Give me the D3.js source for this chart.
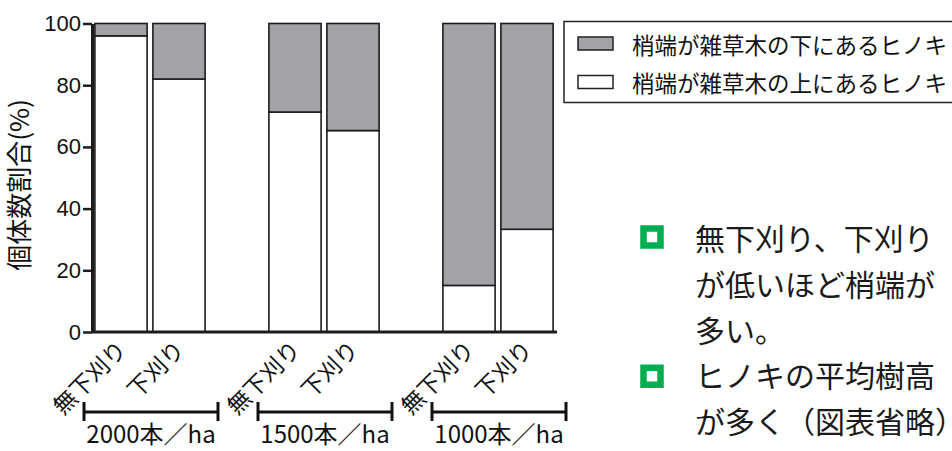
<!DOCTYPE html>
<html>
<head>
<meta charset="utf-8">
<script src="https://cdn.jsdelivr.net/npm/d3@7/dist/d3.min.js"></script>
<style>
  html, body { margin: 0; padding: 0; background: #fff; }
  svg { display: block; }
  .jp { font-family: "Noto Sans CJK JP", "Noto Sans", sans-serif; }
  .half { font-feature-settings: "halt" 1; }
</style>
</head>
<body>
<svg id="chart" width="952" height="451"></svg>
<script>
// Stand density groups and weeding treatments
const groups = ["2000本／ha", "1500本／ha", "1000本／ha"];
const treatments = ["無下刈り", "下刈り"];

// Share of trees (%) per group × treatment, in group order
const aboveShare = [96, 82, 71.3, 65.3, 15.1, 33.3];   // 梢端が雑草木の上
const belowShare = [4, 18, 28.7, 34.7, 84.9, 66.7];    // 梢端が雑草木の下

const yTicks = [0, 20, 40, 60, 80, 100];

const seriesNames = ["梢端が雑草木の下にあるヒノキ", "梢端が雑草木の上にあるヒノキ"];
const seriesColors = { above: "#ffffff", below: "#a3a2a7" };

const noteLines = [
  { text: "無下刈り、下刈り", bullet: true },
  { text: "が低いほど梢端が", bullet: false },
  { text: "多い。", bullet: false },
  { text: "ヒノキの平均樹高", bullet: true },
  { text: "が多く（図表省略", tail: "）", bullet: false }
];

// Build bar rows and band slots (a spacer slot between groups)
const rows = [];
const slots = [];
groups.forEach((g, gi) => {
  treatments.forEach((t, ti) => {
    const i = gi * treatments.length + ti;
    const key = g + "|" + t;
    rows.push({ key, group: g, treatment: t, above: aboveShare[i], below: belowShare[i] });
    slots.push(key);
  });
  if (gi < groups.length - 1) slots.push("gap" + gi);
});

const svg = d3.select("#chart");
const stroke = "#1c1c1c";

const x = d3.scaleBand().domain(slots).range([92, 556]).paddingInner(0.1).paddingOuter(0.05);
const y = d3.scaleLinear().domain([0, 100]).range([332, 23.5]);

// Stacked bars: white (above) at the bottom, gray (below) on top
const stack = d3.stack().keys(["above", "below"]);
const stacked = stack(rows);

svg.append("g").selectAll("g")
  .data(stacked)
  .join("g")
  .attr("fill", s => seriesColors[s.key])
  .selectAll("rect")
  .data(s => s)
  .join("rect")
  .attr("x", d => x(d.data.key))
  .attr("width", x.bandwidth())
  .attr("y", d => y(d[1]))
  .attr("height", d => y(d[0]) - y(d[1]))
  .attr("stroke", stroke)
  .attr("stroke-width", 1.6);

// Y axis
const yAxis = svg.append("g")
  .attr("transform", "translate(92,0)")
  .call(d3.axisLeft(y).tickValues(yTicks).tickSize(9).tickPadding(2).tickSizeOuter(0));
yAxis.select(".domain").attr("stroke", stroke).attr("stroke-width", 3);
yAxis.selectAll(".tick line").attr("stroke", stroke).attr("stroke-width", 2.5);
yAxis.selectAll(".tick text")
  .attr("fill", "#111")
  .style("font-family", "'Liberation Sans', Arial, sans-serif")
  .style("font-size", "22px");

// X axis with rotated treatment labels
const xAxis = svg.append("g")
  .attr("transform", "translate(0,332)")
  .call(d3.axisBottom(x).tickValues(rows.map(r => r.key)).tickSize(0).tickSizeOuter(0)
    .tickFormat(k => k.split("|")[1]));
xAxis.select(".domain").attr("stroke", stroke).attr("stroke-width", 3)
  .attr("d", `M${x.range()[0]},0H${x.range()[1] + 1}`);
xAxis.selectAll(".tick text")
  .attr("class", "jp")
  .attr("fill", "#111")
  .style("font-size", "23px")
  .attr("text-anchor", "end")
  .attr("dy", null)
  .attr("x", 7)
  .attr("y", 19)
  .attr("transform", "rotate(-45 7 19)");

// Group brackets and density labels
const bw = x.bandwidth();
groups.forEach((g, gi) => {
  const first = x(g + "|" + treatments[0]);
  const last = x(g + "|" + treatments[treatments.length - 1]) + bw;
  const cx = (first + last) / 2 + 1;
  const half = 67;
  const by = 412;
  const br = svg.append("g").attr("stroke", "#111").attr("stroke-width", 3);
  br.append("line").attr("x1", cx - half).attr("x2", cx + half).attr("y1", by).attr("y2", by);
  br.append("line").attr("x1", cx - half).attr("x2", cx - half).attr("y1", by - 10).attr("y2", by + 9);
  br.append("line").attr("x1", cx + half).attr("x2", cx + half).attr("y1", by - 10).attr("y2", by + 9);
  svg.append("text")
    .attr("class", "jp")
    .attr("x", cx)
    .attr("y", 443)
    .attr("text-anchor", "middle")
    .attr("fill", "#111")
    .style("font-size", "24px")
    .text(g);
});

// Y axis title
svg.append("text")
  .attr("class", "jp")
  .attr("transform", "translate(29,185) rotate(-90)")
  .attr("text-anchor", "middle")
  .attr("fill", "#111")
  .style("font-size", "26px")
  .text("個体数割合(%)");

// Legend
const lg = svg.append("g");
lg.append("rect")
  .attr("x", 564).attr("y", 21.5).attr("width", 400).attr("height", 81)
  .attr("fill", "#fff").attr("stroke", "#222").attr("stroke-width", 1.5);
const legendItems = [
  { name: seriesNames[0], color: seriesColors.below, cy: 43.5 },
  { name: seriesNames[1], color: seriesColors.above, cy: 82 }
];
legendItems.forEach(it => {
  lg.append("rect")
    .attr("x", 578).attr("y", it.cy - 6.5).attr("width", 35).attr("height", 13)
    .attr("fill", it.color).attr("stroke", "#222").attr("stroke-width", 1.5);
  lg.append("text")
    .attr("class", "jp")
    .attr("x", 632).attr("y", it.cy)
    .attr("dominant-baseline", "central")
    .attr("fill", "#111")
    .style("font-size", "22.5px")
    .text(it.name);
});

// Notes with green square bullets
const notes = svg.append("g");
noteLines.forEach((ln, i) => {
  const base = 250 + i * 45.75;
  if (ln.bullet) {
    notes.append("rect")
      .attr("x", 643.5).attr("y", base - 21.5 + (i ? 2 : 0)).attr("width", 17).attr("height", 17)
      .attr("fill", "none").attr("stroke", "#00ad4f").attr("stroke-width", 6.5);
  }
  const t = notes.append("text")
    .attr("class", "jp")
    .attr("x", 695).attr("y", base)
    .attr("fill", "#1a1a1a")
    .style("font-size", "30px");
  t.append("tspan").text(ln.text);
  if (ln.tail) t.append("tspan").attr("class", "half").text(ln.tail);
});
</script>
</body>
</html>
